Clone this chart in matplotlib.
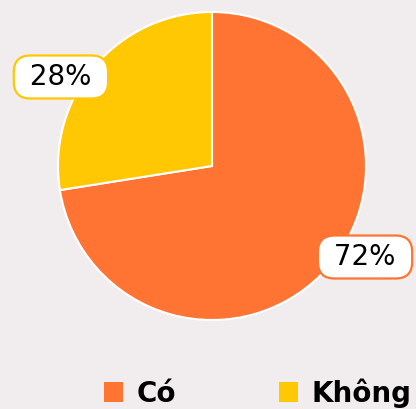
import matplotlib as mpl
mpl.use('Agg')
import matplotlib.pyplot as plt

# Data
labels = ["Có", "Không"]
values = [72.5, 27.5]
colors = ["#FF7433", "#FFC802"]
pct_labels = ["72%", "28%"]
label_pos = [(0.994, -0.591), (-0.981, 0.578)]

BG = "#F1EDEE"
W, H = 416, 409

fig = plt.figure(figsize=(W / 100, H / 100), dpi=100)
fig.patch.set_facecolor(BG)

# pie centred at (212, 166) px from top, radius 154 px
cx, cy, r = 212, 166, 154
ax = fig.add_axes([(cx - r) / W, (H - cy - r) / H, 2 * r / W, 2 * r / H])
ax.set_facecolor(BG)

wedges, _ = ax.pie(values, colors=colors, startangle=90, counterclock=False, radius=1,
                   wedgeprops=dict(edgecolor="white", linewidth=1.5))
ax.set_xlim(-1, 1)
ax.set_ylim(-1, 1)
ax.set_aspect("equal")
ax.axis("off")

for text, (x, y), col in zip(pct_labels, label_pos, colors):
    ax.text(x, y, " " + text + " ", ha="center", va="center", fontsize=20, family="DejaVu Sans",
            color="black", clip_on=False,
            bbox=dict(boxstyle="round,pad=0.27,rounding_size=0.6", facecolor="white",
                      edgecolor=col, linewidth=1.6))

leg = fig.legend(wedges, labels, loc="center left", bbox_to_anchor=(104 / W, 1 - 393 / H),
                 ncol=2, frameon=False, handlelength=0.68, handleheight=0.68,
                 handletextpad=0.5, columnspacing=3.7, borderpad=0, borderaxespad=0,
                 prop=dict(family="DejaVu Sans", weight="bold", size=20))
for h in leg.legend_handles:
    h.set_edgecolor("none")

fig.savefig("out.png", dpi=100, facecolor=BG)
